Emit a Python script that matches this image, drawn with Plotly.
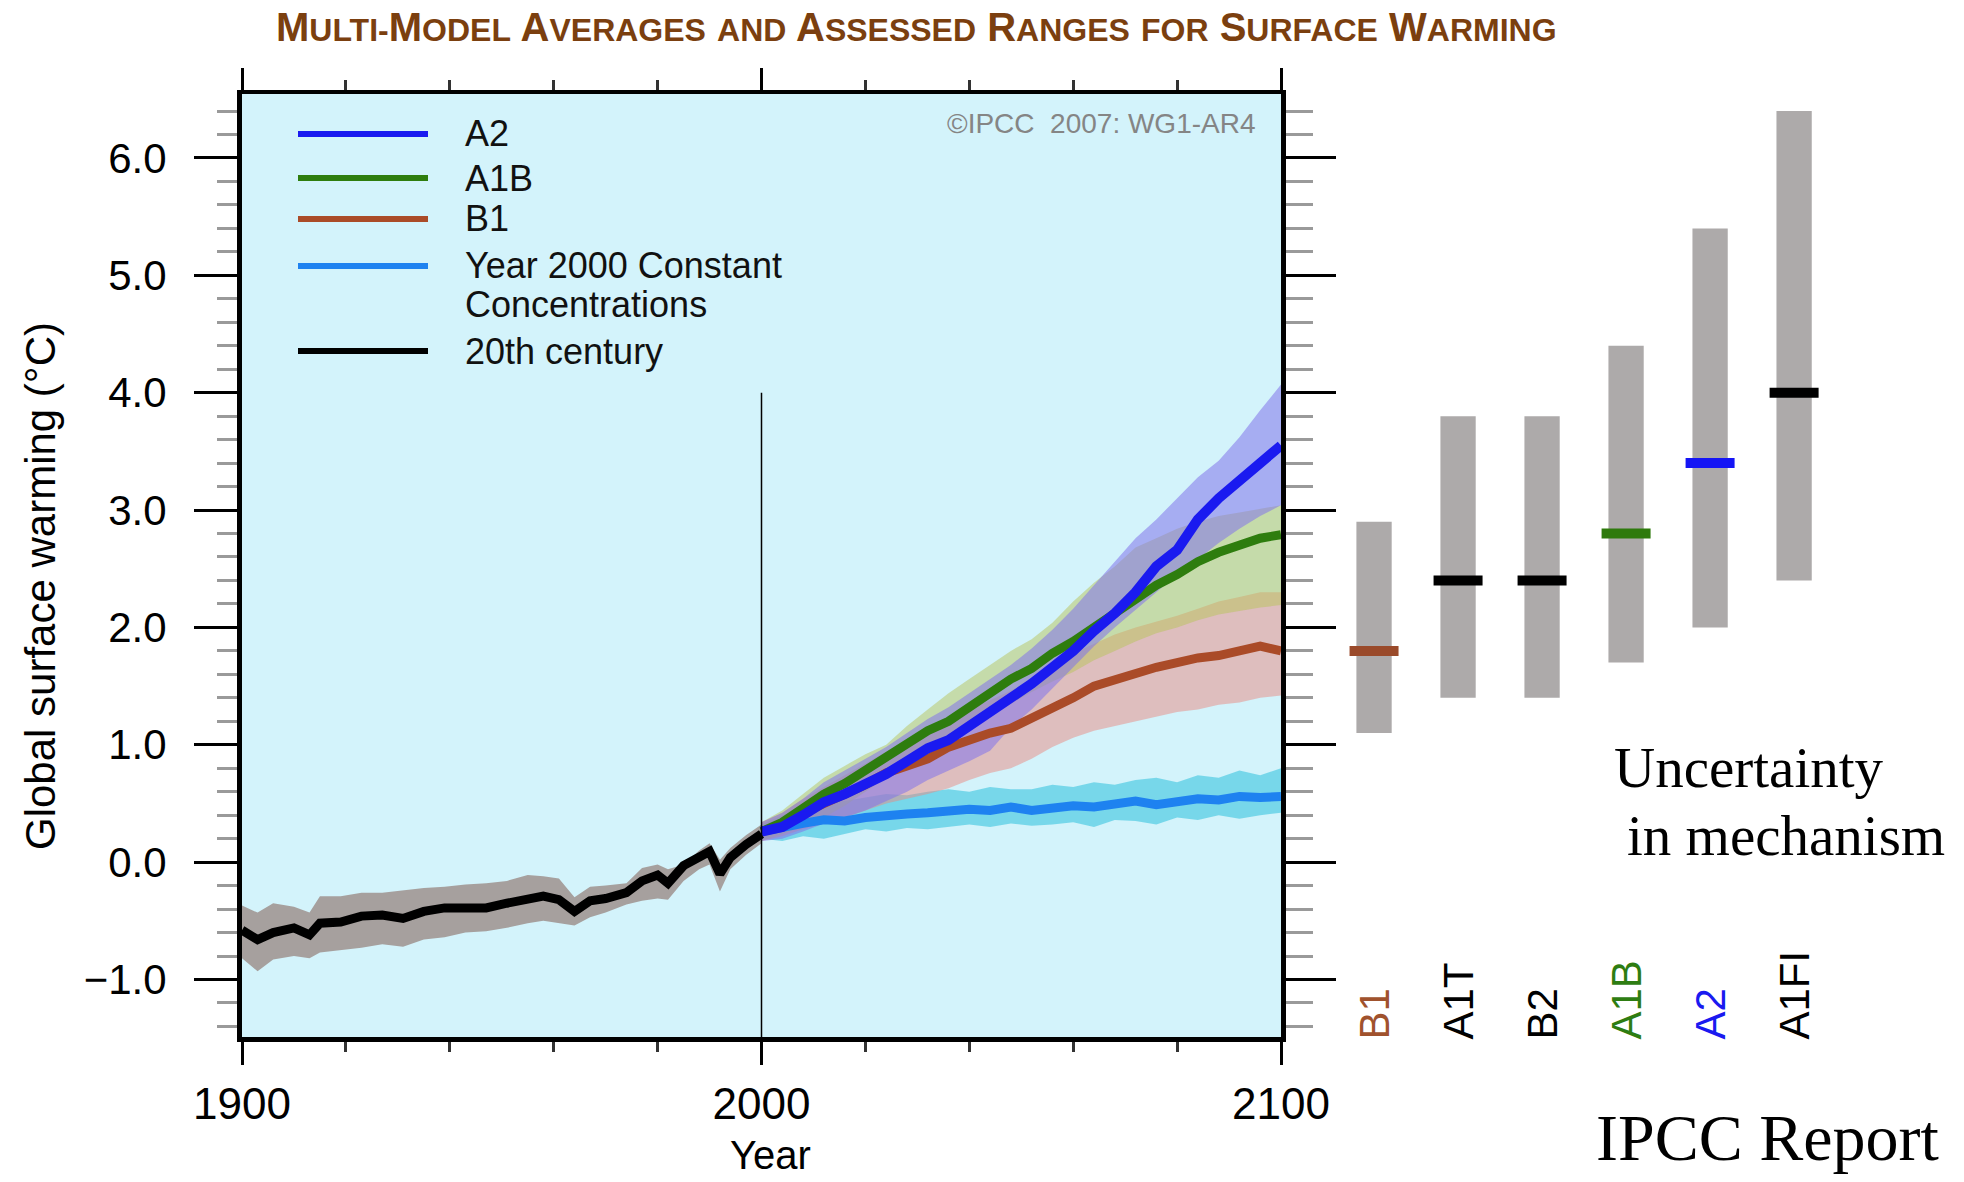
import plotly.graph_objects as go

# ---------------- data ----------------
hist_years = [1900, 1903, 1906, 1910, 1913, 1915, 1919, 1923, 1927, 1931, 1935, 1939, 1943, 1947,
              1951, 1955, 1958, 1961, 1964, 1967, 1970, 1974, 1977, 1980, 1982, 1985, 1988, 1990,
              1992, 1994, 1997, 2000]
hist_mean = [-0.58, -0.66, -0.60, -0.56, -0.62, -0.52, -0.51, -0.46, -0.45, -0.48, -0.42, -0.39, -0.39, -0.39,
             -0.35, -0.32, -0.29, -0.32, -0.42, -0.33, -0.31, -0.26, -0.16, -0.11, -0.18, -0.03, 0.05, 0.09,
             -0.10, 0.04, 0.15, 0.24]
hist_upper = [-0.37, -0.43, -0.35, -0.38, -0.43, -0.29, -0.29, -0.26, -0.26, -0.24, -0.22, -0.21, -0.19, -0.18,
              -0.16, -0.11, -0.12, -0.14, -0.30, -0.21, -0.20, -0.18, -0.05, -0.02, -0.06, -0.02, 0.10, 0.16,
              0.02, 0.12, 0.23, 0.32]
hist_lower = [-0.82, -0.93, -0.83, -0.80, -0.82, -0.77, -0.75, -0.73, -0.70, -0.72, -0.66, -0.64, -0.60, -0.59,
              -0.56, -0.52, -0.50, -0.52, -0.54, -0.47, -0.43, -0.36, -0.33, -0.31, -0.32, -0.16, -0.06, -0.02,
              -0.25, -0.06, 0.06, 0.16]

fut_years = [2000, 2004, 2008, 2012, 2016, 2020, 2024, 2028, 2032, 2036, 2040, 2044, 2048,
             2052, 2056, 2060, 2064, 2068, 2072, 2076, 2080, 2084, 2088, 2092, 2096, 2100]

a2_mean = [0.26, 0.30, 0.40, 0.51, 0.58, 0.66, 0.75, 0.86, 0.97, 1.04, 1.16, 1.27, 1.40,
           1.52, 1.66, 1.80, 1.97, 2.12, 2.30, 2.52, 2.66, 2.92, 3.10, 3.24, 3.40, 3.55]
a2_upper = [0.34, 0.42, 0.54, 0.68, 0.78, 0.88, 0.98, 1.10, 1.22, 1.32, 1.44, 1.56, 1.68,
            1.82, 1.98, 2.16, 2.36, 2.56, 2.76, 2.92, 3.10, 3.28, 3.42, 3.62, 3.85, 4.07]
a2_lower = [0.18, 0.20, 0.26, 0.33, 0.38, 0.44, 0.52, 0.60, 0.70, 0.78, 0.86, 0.95, 1.15,
            1.30, 1.48, 1.66, 1.84, 2.00, 2.15, 2.30, 2.45, 2.58, 2.72, 2.84, 2.95, 3.04]

a1b_mean = [0.26, 0.34, 0.46, 0.58, 0.67, 0.78, 0.88, 1.00, 1.12, 1.20, 1.32, 1.44, 1.56,
            1.65, 1.78, 1.88, 2.00, 2.10, 2.22, 2.36, 2.45, 2.56, 2.64, 2.70, 2.76, 2.79]
a1b_upper = [0.34, 0.44, 0.58, 0.72, 0.82, 0.92, 1.00, 1.16, 1.30, 1.44, 1.56, 1.68, 1.80,
             1.90, 2.04, 2.22, 2.38, 2.52, 2.68, 2.76, 2.84, 2.90, 2.95, 2.98, 3.01, 3.04]
a1b_lower = [0.18, 0.24, 0.30, 0.38, 0.48, 0.60, 0.72, 0.84, 0.94, 1.04, 1.14, 1.25, 1.35,
             1.45, 1.54, 1.62, 1.72, 1.80, 1.88, 1.95, 2.00, 2.06, 2.11, 2.14, 2.17, 2.19]

b1_mean = [0.26, 0.32, 0.42, 0.49, 0.58, 0.66, 0.76, 0.82, 0.88, 0.98, 1.05, 1.10, 1.14,
           1.22, 1.32, 1.40, 1.50, 1.56, 1.62, 1.66, 1.70, 1.74, 1.76, 1.80, 1.84, 1.80]
b1_upper = [0.34, 0.42, 0.54, 0.64, 0.74, 0.84, 0.94, 1.02, 1.10, 1.20, 1.30, 1.38, 1.46,
            1.56, 1.66, 1.78, 1.86, 1.94, 2.00, 2.05, 2.10, 2.16, 2.22, 2.26, 2.30, 2.30]
b1_lower = [0.18, 0.22, 0.28, 0.33, 0.38, 0.44, 0.50, 0.54, 0.58, 0.63, 0.70, 0.76, 0.80,
            0.88, 0.98, 1.06, 1.12, 1.16, 1.20, 1.24, 1.28, 1.30, 1.34, 1.36, 1.40, 1.42]

const_mean = [0.26, 0.30, 0.33, 0.36, 0.35, 0.38, 0.40, 0.41, 0.42, 0.43, 0.45, 0.44, 0.47,
              0.44, 0.46, 0.48, 0.47, 0.50, 0.52, 0.49, 0.52, 0.54, 0.53, 0.56, 0.55, 0.56]
const_upper = [0.32, 0.40, 0.46, 0.50, 0.52, 0.55, 0.58, 0.57, 0.60, 0.62, 0.60, 0.64, 0.62,
               0.62, 0.66, 0.64, 0.68, 0.66, 0.70, 0.72, 0.68, 0.74, 0.72, 0.78, 0.74, 0.80]
const_lower = [0.20, 0.18, 0.22, 0.20, 0.24, 0.28, 0.26, 0.29, 0.28, 0.30, 0.32, 0.30, 0.33,
               0.31, 0.32, 0.34, 0.30, 0.36, 0.35, 0.32, 0.38, 0.36, 0.40, 0.37, 0.40, 0.42]

scenarios = ["B1", "A1T", "B2", "A1B", "A2", "A1FI"]
range_low = [1.1, 1.4, 1.4, 1.7, 2.0, 2.4]
range_high = [2.9, 3.8, 3.8, 4.4, 5.4, 6.4]
best_estimate = [1.8, 2.4, 2.4, 2.8, 3.4, 4.0]
scenario_colors = ["#A0522D", "#000000", "#000000", "#2E7D12", "#1A1AF0", "#000000"]
median_colors = ["#9A4A2A", "#000000", "#000000", "#2E7A0C", "#1515F5", "#000000"]

legend_names = ["A2", "A1B", "B1", "Year 2000 Constant", "20th century"]

divider_year = 2000
divider_top = 4.0

# ---------------- geometry (paper fractions, figure 1964x1182) ----------------
W, H = 1964, 1182
def px(x):
    return x / W
def py(y):
    return 1 - y / H

x_dom = [px(242), px(1281)]
y_dom = [py(1037), py(94)]
y_range = [-1.49, 6.545]

fig = go.Figure()

def band(xs, lo, hi, color):
    fig.add_trace(go.Scatter(x=list(xs) + list(xs)[::-1], y=list(hi) + list(lo)[::-1],
                             fill="toself", fillcolor=color, line=dict(width=0),
                             mode="lines", hoverinfo="skip", showlegend=False))

def line(xs, ys, color, w=9):
    fig.add_trace(go.Scatter(x=xs, y=ys, mode="lines", line=dict(color=color, width=w),
                             showlegend=False))

band(hist_years, hist_lower, hist_upper, "rgba(166,160,158,1)")
band(fut_years, const_lower, const_upper, "rgba(59,196,224,0.6)")
band(fut_years, b1_lower, b1_upper, "rgba(233,137,129,0.5)")
band(fut_years, a1b_lower, a1b_upper, "rgba(183,195,89,0.5)")
band(fut_years, a2_lower, a2_upper, "rgba(130,115,235,0.55)")

line(fut_years, const_mean, "#1E82F0")
line(fut_years, b1_mean, "#AA4B28")
line(fut_years, a1b_mean, "#2E7D0E")
line(fut_years, a2_mean, "#1A1AF0", 10)
line(hist_years, hist_mean, "#000000")

# right panel: likely ranges and best estimates
idx = list(range(len(scenarios)))
fig.add_trace(go.Bar(x=idx, y=[h - l for h, l in zip(range_high, range_low)], base=range_low,
                     width=0.42, marker=dict(color="#ADAAAA", line=dict(width=0)),
                     xaxis="x2", yaxis="y2", showlegend=False, hoverinfo="skip"))
fig.add_trace(go.Scatter(x=idx, y=best_estimate, mode="markers", xaxis="x2", yaxis="y2",
                         marker=dict(symbol="line-ew", size=35,
                                     line=dict(width=10, color=median_colors)),
                         showlegend=False))

axis_font = dict(family="Liberation Sans, Arial, sans-serif", color="black")

fig.update_layout(
    width=W, height=H,
    margin=dict(l=0, r=0, t=0, b=0, autoexpand=False),
    paper_bgcolor="white", plot_bgcolor="white",
    barmode="overlay",
    xaxis=dict(domain=x_dom, range=[1900, 2100], anchor="y", side="bottom", automargin=False,
               showline=True, linewidth=5, linecolor="black", mirror=False,
               ticks="outside", ticklen=23, tickwidth=3, tickcolor="black",
               tick0=1900, dtick=100, showgrid=False, zeroline=False,
               minor=dict(ticks="outside", dtick=20, ticklen=10, tickwidth=3, tickcolor="#333"),
               tickfont=dict(size=44, **axis_font), ticklabelstandoff=1),
    xaxis3=dict(overlaying="x", side="top", range=[1900, 2100], anchor="y", automargin=False,
                showline=True, linewidth=4, linecolor="black",
                ticks="outside", ticklen=22, tickwidth=3, tickcolor="black",
                tick0=1900, dtick=100, showticklabels=False, showgrid=False, zeroline=False,
                minor=dict(ticks="outside", dtick=20, ticklen=10, tickwidth=3, tickcolor="#333")),
    yaxis=dict(domain=y_dom, range=y_range, anchor="x", side="left", automargin=False,
               showline=True, linewidth=5, linecolor="black",
               ticks="outside", ticklen=43, tickwidth=3, tickcolor="black",
               tick0=0, dtick=1, tickformat=".1f", showgrid=False, zeroline=False,
               minor=dict(ticks="outside", tick0=0, dtick=0.2, ticklen=20, tickwidth=3, tickcolor="#9a9a9a"),
               tickfont=dict(size=42, **axis_font), ticklabelstandoff=19),
    yaxis3=dict(overlaying="y", side="right", range=y_range, anchor="x", automargin=False,
                showline=True, linewidth=5, linecolor="black",
                ticks="outside", ticklen=50, tickwidth=3, tickcolor="black",
                tick0=0, dtick=1, showticklabels=False, showgrid=False, zeroline=False,
                minor=dict(ticks="outside", tick0=0, dtick=0.2, ticklen=27, tickwidth=3, tickcolor="#9a9a9a")),
    xaxis2=dict(domain=[px(1296), px(1905)], range=[-0.929, 6.32], anchor="y2", visible=False,
                automargin=False),
    yaxis2=dict(domain=y_dom, range=y_range, anchor="x2", visible=False, automargin=False),
)

# make overlay axes exist
fig.add_trace(go.Scatter(x=[1900], y=[0], xaxis="x3", yaxis="y3", mode="markers",
                         marker=dict(opacity=0), showlegend=False, hoverinfo="skip"))

shapes = []
# cyan plot background
shapes.append(dict(type="rect", xref="x domain", yref="y domain", x0=0, x1=1, y0=0, y1=1,
                   fillcolor="#D3F3FB", line=dict(width=0), layer="below"))
# divider at year 2000
shapes.append(dict(type="line", xref="x", yref="y", x0=divider_year, x1=divider_year,
                   y0=y_range[0], y1=divider_top, line=dict(color="black", width=1.5)))

# manual legend
legend_colors = ["#1A1AF0", "#2E7D0E", "#AA4B28", "#1E82F0", "#000000"]
legend_y = [134, 178, 219, 266, 351]
for c, yy in zip(legend_colors, legend_y):
    shapes.append(dict(type="line", xref="paper", yref="paper", x0=px(298), x1=px(428),
                       y0=py(yy), y1=py(yy), line=dict(color=c, width=6)))
fig.update_layout(shapes=shapes)

ann = []
leg_font = dict(family="Liberation Sans, Arial, sans-serif", size=36, color="#111")
for name, yy in zip(legend_names, legend_y):
    ann.append(dict(text=name, x=px(463), y=py(yy), xref="paper", yref="paper",
                    xanchor="left", yanchor="middle", showarrow=False, font=leg_font))
ann.append(dict(text="Concentrations", x=px(463), y=py(304), xref="paper", yref="paper",
                xanchor="left", yanchor="middle", showarrow=False, font=leg_font))

# copyright
ann.append(dict(text="©IPCC  2007: WG1-AR4", x=px(1258), y=py(123), xref="paper", yref="paper",
                xanchor="right", yanchor="middle", showarrow=False,
                font=dict(family="Liberation Sans, Arial, sans-serif", size=28, color="#858585")))

# title in small caps
def small_caps(words, small=32):
    out = []
    for w in words:
        s = ""
        for ch in w:
            if ch.isupper():
                s += ch
            else:
                s += "<span style='font-size:%dpx'>%s</span>" % (small, ch.upper())
        out.append(s)
    return " ".join(out)

title_words = ["Multi-Model", "Averages", "and", "Assessed", "Ranges", "for", "Surface", "Warming"]
ann.append(dict(text="<b>" + small_caps(title_words) + "</b>", x=px(916), y=py(27),
                xref="paper", yref="paper", xanchor="center", yanchor="middle", showarrow=False,
                font=dict(family="Liberation Sans, Arial, sans-serif",
                          size=40, color="#7B3F0F")))

# axis titles
ann.append(dict(text="Global surface warming (°C)", x=px(40), y=py(586), xref="paper", yref="paper",
                xanchor="center", yanchor="middle", textangle=-90, showarrow=False,
                font=dict(size=42, **axis_font)))
ann.append(dict(text="Year", x=px(770), y=py(1155), xref="paper", yref="paper",
                xanchor="center", yanchor="middle", showarrow=False,
                font=dict(size=40, **axis_font)))

# scenario labels under bars
for i, (name, col) in enumerate(zip(scenarios, scenario_colors)):
    ann.append(dict(text=name, x=i, xref="x2", y=py(1042), yref="paper", textangle=-90,
                    xanchor="center", yanchor="bottom", showarrow=False,
                    font=dict(size=42, family="Liberation Sans, Arial, sans-serif", color=col)))

serif = "Liberation Serif, Times New Roman, serif"
ann.append(dict(text="Uncertainty", x=px(1612), y=py(767), xref="paper", yref="paper",
                xanchor="left", yanchor="middle", showarrow=False,
                font=dict(family=serif, size=57, color="black")))
ann.append(dict(text="in mechanism", x=px(1625), y=py(835), xref="paper", yref="paper",
                xanchor="left", yanchor="middle", showarrow=False,
                font=dict(family=serif, size=57, color="black")))
ann.append(dict(text="IPCC Report", x=px(1941), y=py(1137), xref="paper", yref="paper",
                xanchor="right", yanchor="middle", showarrow=False,
                font=dict(family=serif, size=66, color="black")))

fig.update_layout(annotations=ann)

fig.write_html("out.html")
